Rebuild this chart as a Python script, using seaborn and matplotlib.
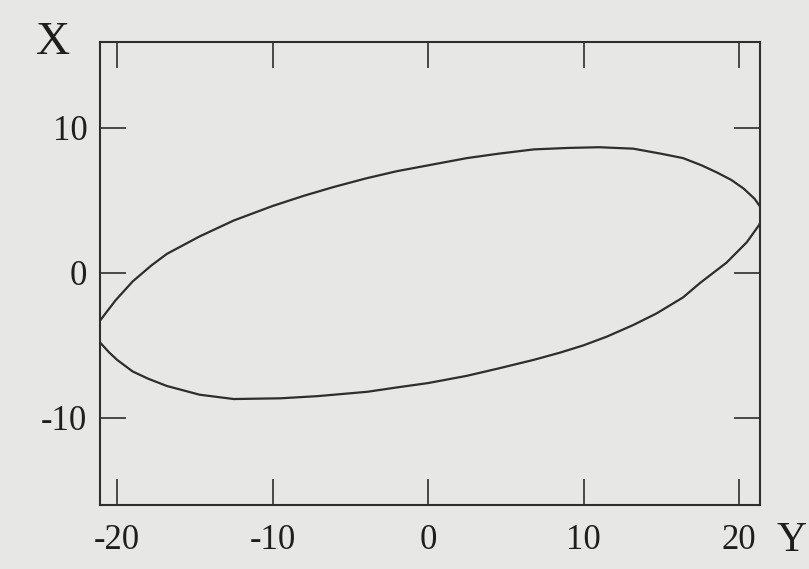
import pandas as pd
import seaborn as sns
import matplotlib.pyplot as plt

# points, going once round the ellipse
y_vals = [-21.6, -21.1, -20.1, -19.0, -17.8, -16.8, -14.7, -12.5, -10.0, -8.0,
          -6.1, -4.0, -2.0, 0.0, 2.5, 4.5, 6.8, 9.0, 11.0, 13.2,
          15.0, 16.4, 17.6, 18.6, 19.5, 20.3, 21.0, 21.4, 21.6,
          21.3, 20.5, 19.2, 17.5, 16.4, 14.7, 13.2, 11.5, 10.0, 8.5,
          6.8, 4.5, 2.5, 0.0, -2.0, -3.9, -7.1, -9.5, -12.5, -14.7,
          -16.8, -18.0, -19.0, -20.0, -20.5, -21.1, -21.6]
x_vals = [-4.1, -3.3, -1.9, -0.6, 0.5, 1.3, 2.5, 3.6, 4.6, 5.3,
          5.9, 6.5, 7.0, 7.4, 7.9, 8.2, 8.5, 8.6, 8.65, 8.55,
          8.2, 7.9, 7.4, 6.9, 6.4, 5.8, 5.1, 4.5, 4.1,
          3.3, 2.1, 0.7, -0.7, -1.7, -2.8, -3.6, -4.4, -5.0, -5.5,
          -6.0, -6.6, -7.1, -7.6, -7.9, -8.2, -8.5, -8.65, -8.7, -8.4,
          -7.8, -7.3, -6.8, -6.0, -5.5, -4.8, -4.1]

y_ticks = [-20, -10, 0, 10, 20]
y_tick_labels = ["-20", "-10", "0", "10", "20"]
x_ticks = [-10, 0, 10]
x_tick_labels = ["-10", "0", "10"]

paper = "#e7e7e5"
ink = "#2e2e2e"

sns.set_style("ticks")
plt.rcParams["font.family"] = ["Liberation Serif", "DejaVu Serif"]

df = pd.DataFrame({"Y": y_vals, "X": x_vals})

fig = plt.figure(figsize=(8.09, 5.69), dpi=100, facecolor=paper)
ax = fig.add_axes([0.1236, 0.1125, 0.8158, 0.8137])
ax.set_facecolor(paper)

sns.lineplot(data=df, x="Y", y="X", sort=False, estimator=None,
             color=ink, linewidth=1.6, ax=ax)

ax.set_xlim(-21.1, 21.35)
ax.set_ylim(-16.0, 15.9)
ax.set_xticks(y_ticks)
ax.set_xticklabels(y_tick_labels)
ax.set_yticks(x_ticks)
ax.set_yticklabels(x_tick_labels)
ax.tick_params(direction="in", length=19, width=1.2, color=ink,
               top=True, right=True, labelsize=25, labelcolor="#1e1e1e")
ax.tick_params(axis="x", pad=14)
ax.tick_params(axis="y", pad=9)
for sp in ax.spines.values():
    sp.set_color(ink)
    sp.set_linewidth(1.5)

ax.set_xlabel("")
ax.set_ylabel("")
fig.text(0.065, 0.925, "X", fontsize=34, color="#1e1e1e", ha="center", va="center")
fig.text(0.997, 0.05, "Y", fontsize=30, color="#1e1e1e", ha="right", va="center")

fig.savefig("out.png", dpi=100, facecolor=paper)
